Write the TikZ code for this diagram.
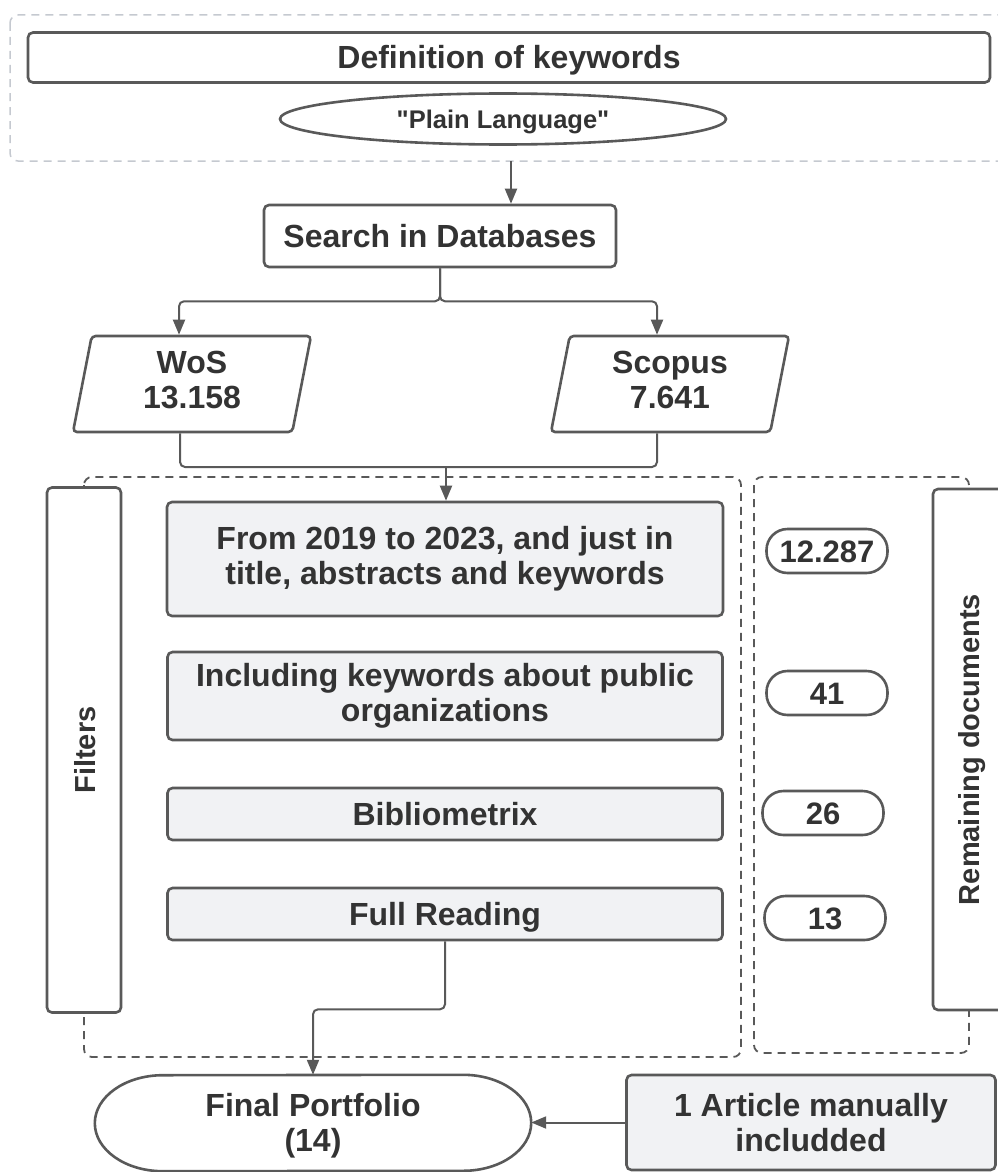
\documentclass[tikz,border=0pt]{standalone}
\usepackage{fontspec}
\setmainfont{Liberation Sans}
\usetikzlibrary{arrows.meta,shapes.geometric}
\definecolor{edge}{HTML}{595959}
\definecolor{ink}{HTML}{333333}
\definecolor{paper}{HTML}{F1F2F4}
\definecolor{faint}{HTML}{C5C9D0}
\begin{document}
\begin{tikzpicture}[x=1pt,y=-1pt,
  txt/.style={font=\fontsize{32}{35}\selectfont\bfseries, text=ink, align=center},
  oneline/.style={text height=23, text depth=0},
  box/.style={txt, draw=edge, fill=white, line width=2.6, rounded corners=5, inner sep=0},
  greybox/.style={box, fill=paper},
  pill/.style={box, oneline, font=\fontsize{31}{34}\selectfont\bfseries, rounded corners=21,
    minimum width=121, minimum height=44},
  upright/.style={box, oneline, rotate=90, font=\fontsize{29}{32}\selectfont\bfseries},
  datain/.style={box, trapezium, trapezium left angle=74, trapezium right angle=106,
    trapezium stretches body, minimum width=238, minimum height=96, rounded corners=4,
    text depth=8},
  outline/.style={draw=edge, line width=2.6},
  conn/.style={draw=edge, line width=2, rounded corners=5},
  arr/.style={conn, -{Triangle[length=15,width=12]}},
  group/.style={draw=edge, line width=1.8, dash pattern=on 8 off 6, rounded corners=8}]
\useasboundingbox (0,0) rectangle (998,1172);
% keyword frame
\draw[group, draw=faint, line width=1.5] (10,15) rectangle (1015,161);
\node [box, oneline, minimum width=962, minimum height=50] (def) at (509,57.5) {Definition of keywords};
\node [box, ellipse, minimum width=446, minimum height=51, text height=18, text depth=0,
  font=\fontsize{25.5}{28}\selectfont\bfseries\addfontfeatures{Ligatures=TeXOff}] (plain) at (503,119) {"Plain Language"};
\coordinate (kwout) at (511,161);
% databases
\node [box, oneline, minimum width=352, minimum height=62] (search) at (440,236) {Search in Databases};
\node [datain] (wos) at (192,384) {WoS\\13.158};
\node [datain] (scopus) at (670,384) {Scopus\\7.641};
% filter and count frames
\draw[group] (84,477) rectangle (741,1057);
\draw[group] (754,477) rectangle (969,1053);
\node [upright, minimum width=525, minimum height=74] (filters) at (84,750) {Filters};
\node [upright, minimum width=521, minimum height=70] (remain) at (968,749.5) {Remaining documents};
\node [greybox, minimum width=556, minimum height=114] (period) at (445,559) {From 2019 to 2023, and just in\\title, abstracts and keywords};
\node [greybox, minimum width=555, minimum height=88] (public) at (445,696) {Including keywords about public\\organizations};
\node [greybox, oneline, minimum width=555, minimum height=52] (biblio) at (445,814) {Bibliometrix};
\node [greybox, oneline, minimum width=555, minimum height=52] (reading) at (445,914) {Full Reading};
\node [pill] (n1) at (827,551) {12.287};
\node [pill] (n2) at (827,693) {41};
\node [pill] (n3) at (823,813) {26};
\node [pill] (n4) at (825,918) {13};
% result
\node [txt, inner sep=0, text height=64.5, minimum width=436, minimum height=96] (final) at (313,1123) {Final Portfolio\\(14)};
\draw[outline] ([xshift=-68]final.north east) arc[start angle=-90, end angle=90, x radius=68, y radius=48]
  -- ([xshift=68]final.south west) arc[start angle=90, end angle=270, x radius=68, y radius=48] -- cycle;
\node [greybox, minimum width=369, minimum height=95] (manual) at (811,1122.5) {1 Article manually\\includded};
\coordinate (merge) at (446,467);
% connectors
\draw[arr] (kwout) -- (kwout |- search.north);
\draw[arr] (search.south) -- ++(0,33) -| ([xshift=-13]wos.north);
\draw[arr] (search.south) -- ++(0,33) -| ([xshift=-13]scopus.north);
\draw[conn] ([xshift=-12]wos.south) |- (merge);
\draw[conn] ([xshift=-13]scopus.south) |- (merge);
\draw[arr] (merge) -- (merge |- period.north);
\draw[arr] (reading.south) -- ++(0,68) -| (final.north);
\draw[arr] (manual.west) -- (manual.west -| final.east);
\end{tikzpicture}
\end{document}
